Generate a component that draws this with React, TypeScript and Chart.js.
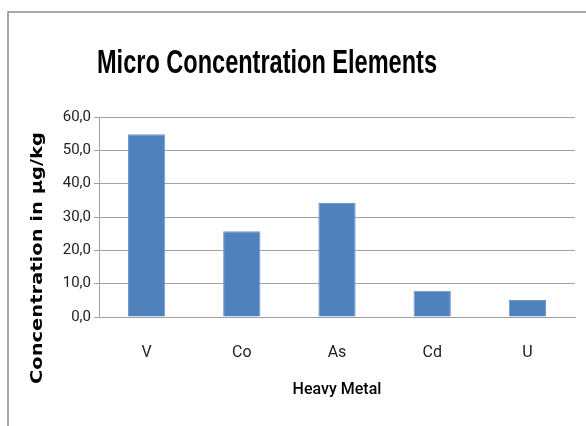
import React, { useEffect, useRef } from "react";
import { Chart, registerables } from "chart.js";

Chart.register(...registerables);

const chartTitle = "Micro Concentration Elements";
const xAxisTitle = "Heavy Metal";
const yAxisTitle = "Concentration in µg/kg";
const categories = ["V", "Co", "As", "Cd", "U"];
const values = [54.8, 25.7, 34.2, 7.9, 5.1];
const yMin = 0;
const yMax = 60;
const yStep = 10;

const SANS = 'Roboto, "Liberation Sans", sans-serif';

function drawFitted(ctx: any, text: string, x: number, y: number, width: number, font: string, rotate: number) {
  ctx.save();
  ctx.font = font;
  ctx.textAlign = "center";
  ctx.textBaseline = "middle";
  const w = ctx.measureText(text).width;
  ctx.translate(x, y);
  ctx.rotate(rotate);
  ctx.scale(width / w, 1);
  ctx.fillText(text, 0, 0);
  ctx.restore();
}

const framePlugin = {
  id: "frameAndTitles",
  beforeDraw(chart: any) {
    const ctx = chart.ctx;
    ctx.save();
    ctx.fillStyle = "#ffffff";
    ctx.fillRect(0, 0, chart.width, chart.height);
    ctx.strokeStyle = "#8c8c8c";
    ctx.lineWidth = 1.5;
    ctx.strokeRect(8, 12, chart.width + 20, chart.height + 20);
    ctx.restore();
  },
  afterDraw(chart: any) {
    const ctx = chart.ctx;
    ctx.fillStyle = "#000000";
    drawFitted(ctx, chartTitle, 267, 64, 340, 'bold 34px "Liberation Sans", sans-serif', 0);
    drawFitted(ctx, yAxisTitle, 38, 258, 252, 'bold 15px "DejaVu Sans", sans-serif', -Math.PI / 2);
  },
};

export default function App() {
  const ref = useRef<HTMLCanvasElement | null>(null);
  useEffect(() => {
    document.body.style.margin = "0";
    const canvas = ref.current;
    if (!canvas) return;
    const chart = new Chart(canvas, {
      type: "bar",
      data: {
        labels: categories,
        datasets: [
          {
            data: values,
            backgroundColor: "#4f81bd",
            borderColor: "#6f97c9",
            borderWidth: 1,
            barPercentage: 0.8,
            categoryPercentage: 0.49,
          },
        ],
      },
      options: {
        animation: false,
        responsive: false,
        maintainAspectRatio: false,
        layout: { padding: { left: 0, right: 11, top: 117, bottom: 0 } },
        plugins: {
          legend: { display: false },
          title: { display: false },
          tooltip: { enabled: false },
        },
        scales: {
          x: {
            grid: { display: false },
            border: { display: true, color: "#a0a0a0", width: 1 },
            ticks: {
              color: "#222",
              padding: 18,
              font: { family: SANS, size: 16 },
            },
            title: {
              display: true,
              text: xAxisTitle,
              color: "#000",
              font: { family: SANS, size: 16, weight: "500" },
              padding: { top: 0, bottom: 26 },
            },
            afterFit(scale: any) {
              scale.height = 109;
            },
          },
          y: {
            min: yMin,
            max: yMax,
            ticks: {
              stepSize: yStep,
              color: "#222",
              padding: 3,
              font: { family: SANS, size: 15 },
              callback: (v: any) => Number(v).toFixed(1).replace(".", ","),
            },
            grid: { color: "#a3a3a3", lineWidth: 1, tickLength: 5, drawTicks: true },
            border: { display: true, color: "#a3a3a3", width: 1 },
            afterFit(scale: any) {
              scale.width = 99;
            },
          },
        },
      },
      plugins: [framePlugin],
    });
    return () => chart.destroy();
  }, []);
  return (
    <div style={{ position: "absolute", left: 0, top: 0, width: 586, height: 426 }}>
      <canvas ref={ref} width={586} height={426} style={{ width: 586, height: 426 }} />
    </div>
  );
}
